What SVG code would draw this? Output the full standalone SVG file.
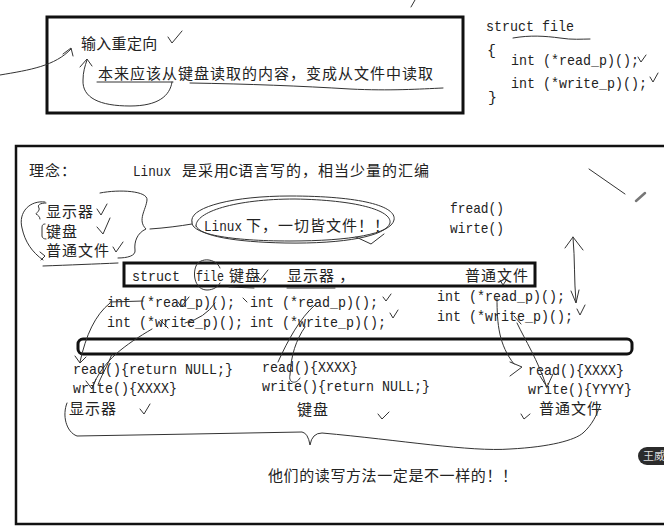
<svg xmlns="http://www.w3.org/2000/svg" width="664" height="526" viewBox="0 0 664 526">
<style>
.cj{font-family:"Noto Sans CJK SC","Noto Sans",sans-serif;font-size:15px;letter-spacing:1px;fill:#222}
.mo{font-family:"Liberation Mono","Noto Sans CJK SC",monospace;font-size:15px;fill:#222}
.hand{fill:none;stroke:#333;stroke-width:1;stroke-linecap:round;stroke-linejoin:round}
.box{fill:none;stroke:#111;stroke-width:3}
</style>
<rect width="664" height="526" fill="#fff"/>

<g id="top-box">
<rect class="box" x="47" y="17" width="416" height="96"/>
<text class="cj" x="81" y="49" style="letter-spacing:0.3px">输入重定向</text>
<text class="cj" x="98" y="79">本来应该从键盘读取的内容，变成从文件中读取</text>
</g>

<g id="struct-def">
<text class="mo" x="486" y="31" textLength="88" lengthAdjust="spacingAndGlyphs">struct file</text>
<text class="mo" x="487" y="55">{</text>
<text class="mo" x="511" y="65" textLength="128" lengthAdjust="spacingAndGlyphs">int (*read_p)();</text>
<text class="mo" x="511" y="88" textLength="136" lengthAdjust="spacingAndGlyphs">int (*write_p)();</text>
<text class="mo" x="488" y="102">}</text>
</g>

<g id="concept-box">
<rect x="16" y="146" width="660" height="378" fill="none" stroke="#111" stroke-width="2.5"/>
<text class="cj" x="29" y="176">理念：</text>
<text class="mo" x="133" y="176" textLength="38" lengthAdjust="spacingAndGlyphs">Linux</text>
<text class="cj" x="182" y="176">是采用</text>
<text class="mo" x="229" y="176">C</text>
<text class="cj" x="238" y="176">语言写的，相当少量的汇编</text>
</g>

<g id="devices-list">
<text class="cj" x="46" y="217">显示器</text>
<text class="cj" x="46" y="237">键盘</text>
<text class="cj" x="46" y="256">普通文件</text>
</g>

<g id="everything-file">
<text class="mo" x="204" y="231" textLength="38" lengthAdjust="spacingAndGlyphs">Linux</text>
<text class="cj" x="246" y="231">下，一切皆文件！！</text>
</g>

<g id="fread-write">
<text class="mo" x="450" y="213" textLength="54" lengthAdjust="spacingAndGlyphs">fread()</text>
<text class="mo" x="450" y="233" textLength="54" lengthAdjust="spacingAndGlyphs">wirte()</text>
</g>

<g id="struct-file-box">
<rect class="box" x="124" y="263" width="411" height="23"/>
<text class="mo" x="132" y="281" textLength="48" lengthAdjust="spacingAndGlyphs">struct</text>
<text class="mo" x="196" y="281" textLength="28" lengthAdjust="spacingAndGlyphs">file</text>
<text class="cj" x="229" y="281">键盘，</text>
<text class="cj" x="287" y="281">显示器 ，</text>
<text class="cj" x="465" y="281">普通文件</text>
</g>

<g id="pointers">
<text class="mo" x="107" y="307" textLength="128" lengthAdjust="spacingAndGlyphs">int (*read_p)();</text>
<text class="mo" x="107" y="327" textLength="136" lengthAdjust="spacingAndGlyphs">int (*write_p)();</text>
<text class="mo" x="250" y="307" textLength="128" lengthAdjust="spacingAndGlyphs">int (*read_p)();</text>
<text class="mo" x="250" y="327" textLength="136" lengthAdjust="spacingAndGlyphs">int (*write_p)();</text>
<text class="mo" x="437" y="301" textLength="128" lengthAdjust="spacingAndGlyphs">int (*read_p)();</text>
<text class="mo" x="437" y="321" textLength="136" lengthAdjust="spacingAndGlyphs">int (*write_p)();</text>
</g>

<g id="bar">
<rect x="78" y="339" width="554" height="15" rx="5" fill="none" stroke="#111" stroke-width="3"/>
</g>

<g id="impl-display">
<text class="mo" x="73" y="374" textLength="160" lengthAdjust="spacingAndGlyphs">read(){return NULL;}</text>
<text class="mo" x="73" y="393" textLength="104" lengthAdjust="spacingAndGlyphs">write(){XXXX}</text>
<text class="cj" x="69" y="414">显示器</text>
</g>
<g id="impl-keyboard">
<text class="mo" x="262" y="372" textLength="96" lengthAdjust="spacingAndGlyphs">read(){XXXX}</text>
<text class="mo" x="262" y="391" textLength="168" lengthAdjust="spacingAndGlyphs">write(){return NULL;}</text>
<text class="cj" x="297" y="415">键盘</text>
</g>
<g id="impl-file">
<text class="mo" x="528" y="375" textLength="96" lengthAdjust="spacingAndGlyphs">read(){XXXX}</text>
<text class="mo" x="528" y="394" textLength="104" lengthAdjust="spacingAndGlyphs">write(){YYYY}</text>
<text class="cj" x="539" y="414">普通文件</text>
</g>

<g id="conclusion">
<text class="cj" x="268" y="481" style="letter-spacing:0.6px">他们的读写方法一定是不一样的！！</text>
</g>

<g id="badge">
<rect x="638" y="447" width="40" height="18" rx="9" fill="#2b2b2b"/>
<text x="643" y="460" style="font-family:'Noto Sans CJK SC',sans-serif;font-size:11px;fill:#ddd">王威</text>
</g>

<g id="connectors" class="hand">
<path d="M0,75 C30,70 55,66 71,49"/>
<path d="M63,54 L71,48 L73,56"/>
<path d="M172,82 C170,96 158,106 130,106 C100,106 82,98 83,80 C83,72 85,66 87,60"/>
<path d="M80,67 L87,59 L92,66"/>
<path d="M97,82 L173,82"/>
<path d="M190,83 C250,84 300,86 350,89 C390,91 420,89 443,88"/>
<path d="M168,37 L172,43 L182,31"/>
<path d="M411,7 L415,0"/>
<path d="M513,38 C530,35 545,36 560,38 C572,40 582,39 590,39"/>
<path d="M638,57 L641,62 L646,55"/>
<path d="M650,77 L653,82 L658,73"/>
<path d="M589,169 L625,194"/>
<path d="M636,201 L645,193" stroke="#777" stroke-width="2.5"/>
<path d="M573,237 C575,260 574,280 576,302"/>
<path d="M565,248 L573,237 L583,250"/>
<path d="M571,291 L576,303 L579,290"/>
<path d="M46,203 C40,203 37,205 39,208 C40,211 36,213 36,214 C38,215 40,217 40,219"/>
<path d="M45,224 C42,224 42,226 42,229 L42,236 C42,238 44,239 46,239"/>
<path d="M45,202 C30,200 18,212 22,228 C25,242 32,252 43,260"/>
<path d="M40,252 L45,256 L41,260"/>
<path d="M43,266 C70,265 95,264 118,263"/>
<path d="M97,209 L101,215 L107,204"/>
<path d="M97,227 L103,234 L110,218"/>
<path d="M113,247 L116,252 L123,242"/>
<path d="M100,193 C120,189 148,191 147,200 C146,210 137,220 146,229 C137,233 134,242 135,250 C136,256 127,258 118,258"/>
<path d="M150,229 C165,228 180,226 192,224"/>
<path d="M192,222 C188,208 230,196 290,196 C360,196 397,206 394,220 C391,234 350,241 290,241 C230,241 190,234 192,222"/>
<path d="M196,226 C195,212 235,199 295,199 C355,200 392,210 390,223 C386,236 345,244 285,243 C235,242 200,236 196,226"/>
<path d="M356,237 L371,244 L384,234"/>
<path d="M220,268 C216,258 200,257 196,266 C192,276 196,290 207,290 C213,290 218,287 220,283"/>
<path d="M229,287 L254,288"/>
<path d="M287,288 L335,288"/>
<path d="M257,275 L260,280 L268,270"/>
<path d="M500,280 L503,285 L507,279"/>
<path d="M110,302 L143,301"/>
<path d="M178,302 L181,307 L189,297"/>
<path d="M110,303 C95,315 86,335 80,362"/>
<path d="M75,356 L80,363 L86,357"/>
<path d="M215,303 Q205,318 185,323"/>
<path d="M160,320 L168,328"/>
<path d="M152,329 C125,345 103,360 92,388"/>
<path d="M112,354 C108,365 100,378 98,385"/>
<path d="M86,381 L92,389 L96,379"/>
<path d="M243,298 L247,302"/>
<path d="M383,297 L386,301 L391,294"/>
<path d="M390,313 L393,318 L398,310"/>
<path d="M315,305 C300,318 288,340 278,362"/>
<path d="M305,327 C296,340 291,355 290,375 C288,383 296,385 300,378"/>
<path d="M577,309 L580,315 L585,305"/>
<path d="M497,298 C497,325 499,345 514,364"/>
<path d="M510,362 L522,367 L510,376"/>
<path d="M517,323 C525,340 538,360 547,388"/>
<path d="M540,376 L547,387 L553,374"/>
<path d="M514,316 L521,324"/>
<path d="M140,409 L144,414 L150,404"/>
<path d="M378,414 L382,419 L389,412"/>
<path d="M521,414 L524,419 L530,414"/>
<path d="M67,403 C62,415 66,432 77,436 L193,434 L302,432 Q308,433 310,445 Q312,433 322,433 C400,440 470,452 510,449 C550,447 575,440 583,433 C592,425 597,415 600,405"/>
</g>
</svg>
